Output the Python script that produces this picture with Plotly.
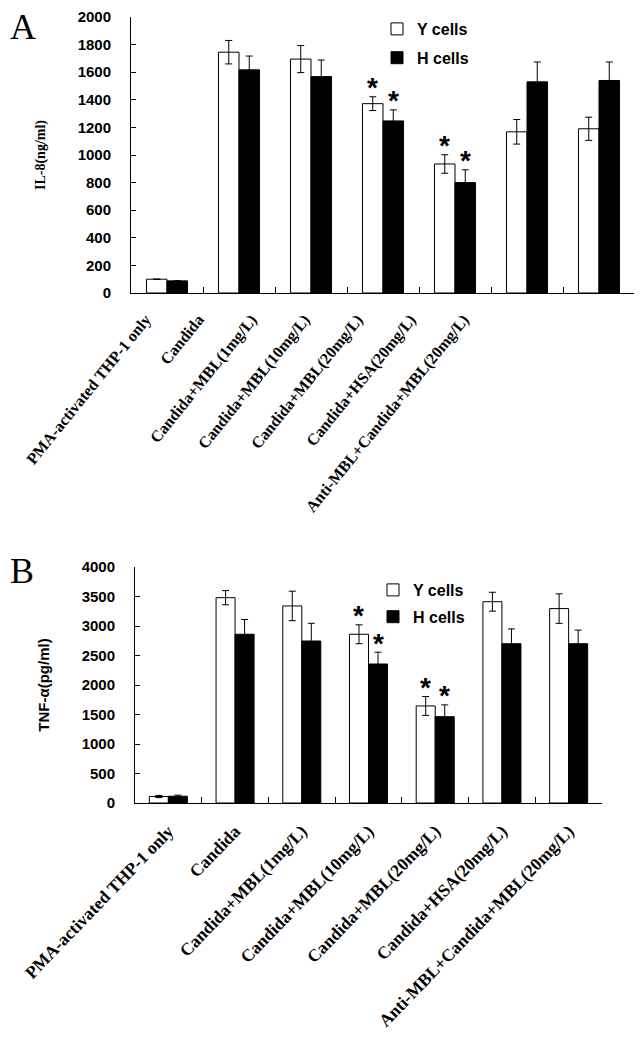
import plotly.graph_objects as go

# ---------------- data ----------------
categories = [
    "PMA-activated THP-1 only",
    "Candida",
    "Candida+MBL(1mg/L)",
    "Candida+MBL(10mg/L)",
    "Candida+MBL(20mg/L)",
    "Candida+HSA(20mg/L)",
    "Anti-MBL+Candida+MBL(20mg/L)",
]
series_names = ["Y cells", "H cells"]

il8_y = [100, 1745, 1695, 1372, 935, 1168, 1190]
il8_y_err = [0, 85, 98, 50, 67, 89, 84]
il8_h = [88, 1617, 1568, 1247, 800, 1530, 1540]
il8_h_err = [0, 100, 120, 80, 93, 144, 134]

tnf_y = [110, 3480, 3340, 2860, 1645, 3412, 3295]
tnf_y_err = [18, 120, 250, 160, 160, 160, 250]
tnf_h = [115, 2860, 2746, 2356, 1463, 2700, 2700]
tnf_h_err = [18, 250, 300, 200, 200, 250, 230]

significant = [False, False, False, True, True, False, False]

il8_ticks = [0, 200, 400, 600, 800, 1000, 1200, 1400, 1600, 1800, 2000]
tnf_ticks = [0, 500, 1000, 1500, 2000, 2500, 3000, 3500, 4000]

# ---------------- layout geometry ----------------
OFF = 8                 # page body margin
W, H = 630, 1027        # figure size
BARGAP = 0.43
SERIF = "Liberation Serif"
SANS = "Liberation Sans"


def px(x):
    return (x - OFF) / W


def py(y):
    return 1 - (y - OFF) / H


fig = go.Figure()


def add_pair(vals_y, err_y, vals_h, err_h, xa, ya, legend):
    for name, vals, err, fill in [
        (series_names[0], vals_y, err_y, "white"),
        (series_names[1], vals_h, err_h, "black"),
    ]:
        fig.add_trace(
            go.Bar(
                x=categories,
                y=vals,
                name=name,
                legendgroup=legend + name,
                legend=legend,
                xaxis=xa,
                yaxis=ya,
                marker=dict(color=fill, line=dict(color="black", width=1)),
                error_y=dict(
                    type="data",
                    array=err,
                    visible=True,
                    color="black",
                    thickness=1,
                    width=3.5,
                ),
            )
        )


add_pair(il8_y, il8_y_err, il8_h, il8_h_err, "x", "y", "legend")
add_pair(tnf_y, tnf_y_err, tnf_h, tnf_h_err, "x2", "y2", "legend2")


def add_stars(vals_y, err_y, vals_h, err_h, xa, ya, cat_px):
    half = cat_px * (1 - BARGAP) / 4
    for i, s in enumerate(significant):
        if not s:
            continue
        for v, e, sh in [(vals_y[i], err_y[i], -half), (vals_h[i], err_h[i], half)]:
            fig.add_annotation(
                x=categories[i],
                y=v + e,
                xref=xa,
                yref=ya,
                text="*",
                showarrow=False,
                xshift=sh,
                yanchor="middle",
                yshift=9,
                font=dict(family=SANS, size=28, color="black", weight="bold"),
            )


top_dom_x = [px(131), px(635)]
top_dom_y = [py(293), py(17)]
bot_dom_x = [px(135), px(602)]
bot_dom_y = [py(803), py(567)]

add_stars(il8_y, il8_y_err, il8_h, il8_h_err, "x", "y", (635 - 131) / 7)
add_stars(tnf_y, tnf_y_err, tnf_h, tnf_h_err, "x2", "y2", (602 - 135) / 7)

xcommon = dict(
    type="category",
    showline=True,
    linecolor="black",
    linewidth=1,
    ticks="inside",
    tickson="boundaries",
    ticklen=6,
    tickcolor="black",
    showgrid=False,
    zeroline=False,
    automargin=False,
)
ycommon = dict(
    showline=True,
    linecolor="black",
    linewidth=1,
    ticks="inside",
    ticklen=5,
    tickcolor="black",
    showgrid=False,
    zeroline=False,
    automargin=False,
    ticklabeloverflow="allow",
    ticklabelstandoff=16,
    tickfont=dict(family=SANS, size=15, color="black", weight="bold"),
)
legend_font = dict(family=SANS, size=16, color="black", weight="bold")

fig.update_layout(
    template="none",
    width=W,
    height=H,
    margin=dict(l=0, r=0, t=0, b=0, autoexpand=False),
    paper_bgcolor="white",
    plot_bgcolor="rgba(0,0,0,0)",
    barmode="group",
    bargap=BARGAP,
    bargroupgap=0,
    xaxis=dict(domain=top_dom_x, anchor="y", showticklabels=False, **xcommon),
    yaxis=dict(
        domain=top_dom_y,
        anchor="x",
        range=[0, 2000],
        tickvals=il8_ticks,
        title=dict(text="IL-8(ng/ml)", font=dict(family=SERIF, size=14, color="black", weight="bold"), standoff=28),
        **ycommon,
    ),
    # free axis carrying the (compressed) category labels of panel A
    xaxis3=dict(
        domain=[px(119), px(119 + 53 * 7)],
        anchor="y",
        type="linear",
        range=[-0.5, 6.5],
        tickmode="array",
        tickvals=list(range(len(categories))),
        ticktext=categories,
        tickangle=-51,
        tickfont=dict(family=SERIF, size=16, color="black", weight="bold"),
        ticklabelstandoff=13,
        ticklabeloverflow="allow",
        showline=False,
        showgrid=False,
        zeroline=False,
        ticks="",
        automargin=False,
    ),
    xaxis2=dict(
        domain=bot_dom_x,
        anchor="y2",
        showticklabels=True,
        tickangle=-46,
        tickfont=dict(family=SERIF, size=17.5, color="black", weight="bold"),
        ticklabelstandoff=10,
        ticklabeloverflow="allow",
        **xcommon,
    ),
    yaxis2=dict(
        domain=bot_dom_y,
        anchor="x2",
        range=[0, 4000],
        tickvals=tnf_ticks,
        title=dict(text="TNF-α(pg/ml)", font=dict(family=SANS, size=15, color="black", weight="bold"), standoff=28),
        **ycommon,
    ),
    legend=dict(
        x=px(377),
        y=py(12),
        xanchor="left",
        yanchor="top",
        bgcolor="rgba(0,0,0,0)",
        font=legend_font,
        tracegroupgap=5,
    ),
    legend2=dict(
        x=px(373),
        y=py(573),
        xanchor="left",
        yanchor="top",
        bgcolor="rgba(0,0,0,0)",
        font=legend_font,
        tracegroupgap=3,
    ),
)

fig.add_trace(
    go.Scatter(
        x=[0, 6],
        y=[0, 0],
        xaxis="x3",
        yaxis="y",
        mode="markers",
        marker=dict(opacity=0),
        showlegend=False,
        hoverinfo="skip",
    )
)

fig.add_annotation(text="A", x=px(8), y=py(8), xref="paper", yref="paper", xanchor="left", yanchor="top",
                   yshift=3, showarrow=False, font=dict(family=SERIF, size=36, color="black"))
fig.add_annotation(text="B", x=px(8), y=py(549), xref="paper", yref="paper", xanchor="left", yanchor="top",
                   showarrow=False, font=dict(family=SERIF, size=36, color="black"))

fig.write_html("out.html")
